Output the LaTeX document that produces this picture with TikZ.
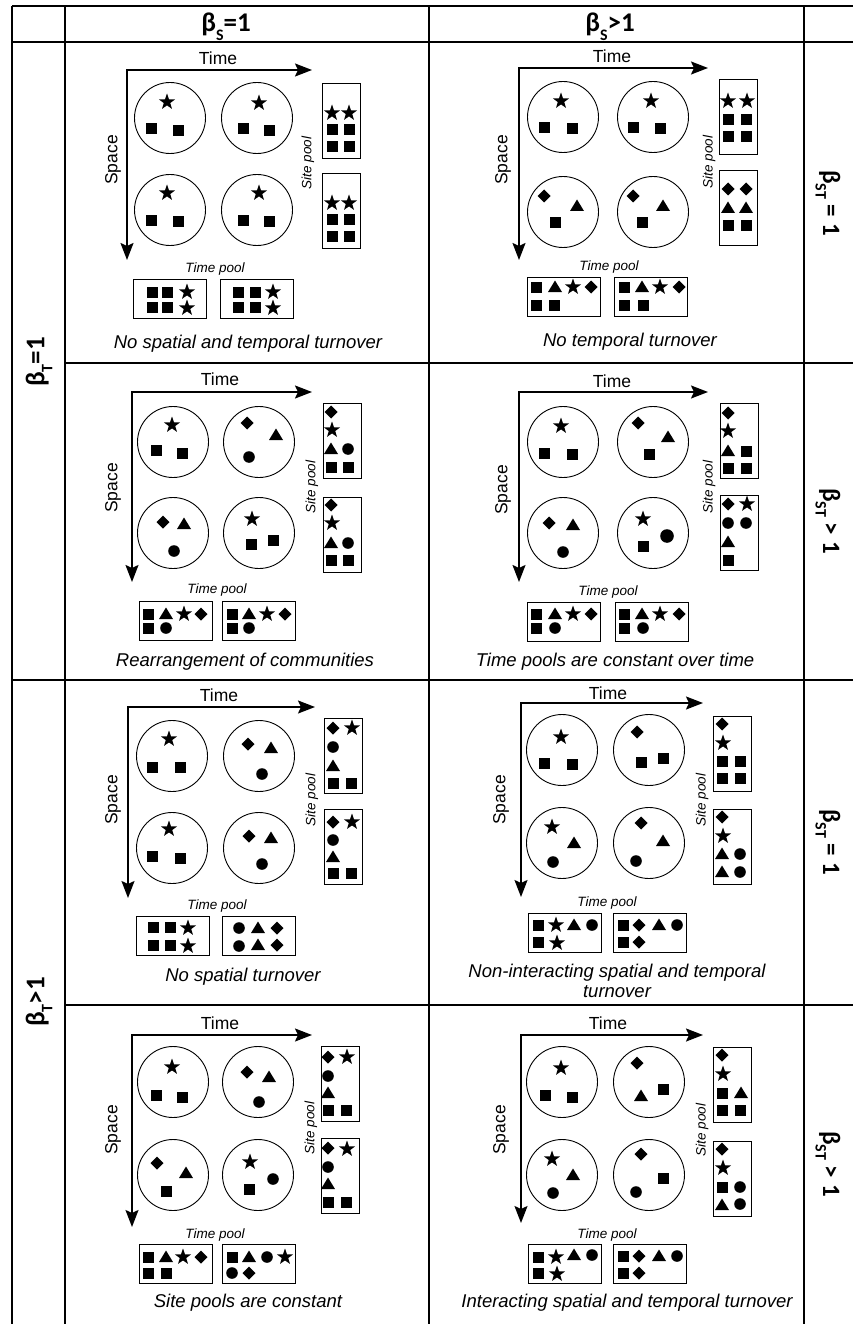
\documentclass[tikz,border=0pt]{standalone}
\usepackage{fontspec}
\usetikzlibrary{arrows.meta}
\newfontfamily\arial{Liberation Sans}
\newfontfamily\carl{Carlito}
\tikzset{
 gridline/.style={line width=1.6pt},
 axis/.style={line width=1.8pt,{Stealth[length=17pt,width=13pt,inset=3pt]}-{Stealth[length=17pt,width=13pt,inset=3pt]}},
 comm/.style={draw,circle,minimum size=71pt,inner sep=0pt,line width=0.9pt},
 sbox/.style={draw,rectangle,anchor=north west,minimum width=38pt,minimum height=75pt,inner sep=0pt,line width=1.1pt},
 tbox/.style={draw,rectangle,anchor=north west,minimum width=73pt,minimum height=39pt,inner sep=0pt,line width=1.1pt},
 axlbl/.style={font=\arial\fontsize{17.5}{19}\selectfont,inner sep=0pt},
 poollbl/.style={font=\arial\itshape\fontsize{13.5}{15}\selectfont,inner sep=0pt},
 captxt/.style={font=\arial\itshape\fontsize{18.5}{20}\selectfont,inner sep=0pt},
 beta/.style={font=\carl\bfseries\fontsize{27}{29}\selectfont,inner sep=0pt},
 betar/.style={font=\carl\bfseries\fontsize{25}{27}\selectfont,inner sep=0pt},
}
\newcommand\bsub[1]{\raisebox{-0.3em}{\fontsize{16}{16}\selectfont #1}}
% species symbols
\newcommand\Sq[1]{\fill[shift={(#1)}] (-5.5,-5.5) rectangle (5.5,5.5);}
\newcommand\St[1]{\fill[shift={(#1)}] (-90:8.5) -- (-54:3.4) -- (-18:8.5) -- (18:3.4) -- (54:8.5) -- (90:3.4) -- (126:8.5) -- (162:3.4) -- (198:8.5) -- (234:3.4) -- cycle;}
\newcommand\Tr[1]{\fill[shift={(#1)}] (0,-6.5) -- (7,5) -- (-7,5) -- cycle;}
\newcommand\Di[1]{\fill[shift={(#1)}] (0,-6.5) -- (6.5,0) -- (0,6.5) -- (-6.5,0) -- cycle;}
\newcommand\Ci[1]{\fill (#1) circle (5.8);}
% panel parts
\newcommand\Axes[3]{\coordinate (#1o) at (0,0); \coordinate (#1te) at (#2,0); \coordinate (#1se) at (0,#3);
 \draw[axis] (#1te) -- (#1o) -- (#1se);}
\newcommand\Circles[5]{\node[comm] (#1c1) at (#2,#4) {}; \node[comm] (#1c2) at (#3,#4) {};
 \node[comm] (#1c3) at (#2,#5) {}; \node[comm] (#1c4) at (#3,#5) {};}
\newcommand\SitePools[4]{\node[sbox] (#1s1) at (#2,#3) {}; \node[sbox] (#1s2) at (#2,#4) {};}
\newcommand\TimePools[4]{\node[tbox] (#1p1) at (#2,#4) {}; \node[tbox] (#1p2) at (#3,#4) {};}
\newcommand\Labels[5]{\node[axlbl] (#1tl) at (#2) {Time};
 \node[axlbl,rotate=90] (#1sl) at (#3) {Space};
 \node[poollbl,rotate=90] (#1spl) at (#4) {Site pool};
 \node[poollbl] (#1tpl) at (#5) {Time pool};}
\begin{document}
\begin{tikzpicture}[x=1pt,y=-1pt]
\fill[white] (0,0) rectangle (853,1324);
\useasboundingbox (0,0) rectangle (853,1324);
% table
\draw[gridline] (12,6) -- (853,6);
\draw[gridline] (12,42) -- (853,42);
\draw[gridline] (65,363) -- (853,363);
\draw[gridline,line width=2.4pt] (12,680) -- (853,680);
\draw[gridline] (65,1005) -- (853,1005);
\draw[gridline] (12,6) -- (12,1324);
\draw[gridline] (65,6) -- (65,1324);
\draw[gridline] (429,6) -- (429,1324);
\draw[gridline,line width=2.4pt] (804,6) -- (804,1324);
% headers
\node[beta,anchor=base] (hS1) at (226,32) {β\bsub{S}=1};
\node[beta,anchor=base] (hS2) at (610,32) {β\bsub{S}>1};
\node[beta,rotate=90] (hT1) at (39,362) {β\bsub{T}=1};
\node[beta,rotate=90] (hT2) at (39,1002) {β\bsub{T}>1};
\node[betar,rotate=-90] (hST1) at (828,203) {β\bsub{ST} = 1};
\node[betar,rotate=-90] (hST2) at (828,521) {β\bsub{ST} > 1};
\node[betar,rotate=-90] (hST3) at (828,842) {β\bsub{ST} = 1};
\node[betar,rotate=-90] (hST4) at (828,1164) {β\bsub{ST} > 1};
% ---------- Panel A ----------
\begin{scope}[shift={(127,70)}]
\Axes{A}{185}{190}
\Labels{A}{91,-12}{-14,90}{181,93}{88,199}
\Circles{A}{43}{130}{48}{140}
\SitePools{A}{195}{13}{103}
\TimePools{A}{6}{93}{209}
\St{40,32} \Sq{24,59} \Sq{51,61}
\St{132,33} \Sq{116,59} \Sq{142,61}
\St{40,123} \Sq{24,151} \Sq{51,152}
\St{132,123} \Sq{116,151} \Sq{142,152}
\St{205,43} \St{222,43} \Sq{205,60} \Sq{222,60} \Sq{205,77} \Sq{222,77}
\St{205,133} \St{222,133} \Sq{205,150} \Sq{222,150} \Sq{205,167} \Sq{222,167}
\Sq{25,222} \Sq{40,222} \St{60,222} \Sq{25,237} \Sq{40,237} \St{60,238}
\Sq{111,222} \Sq{128,222} \St{146,222} \Sq{111,237} \Sq{128,237} \St{146,238}
\end{scope}
\node[captxt] (capA) at (248,344) {No spatial and temporal turnover};
% ---------- Panel B ----------
\begin{scope}[shift={(519,68)}]
\Axes{B}{189}{192}
\Labels{B}{93,-12}{-16,92}{190,94}{90,199}
\Circles{B}{44}{134}{49}{144}
\SitePools{B}{200}{11}{102}
\TimePools{B}{8}{95}{209}
\St{42,33} \Sq{25,60} \Sq{53,61}
\St{132,33} \Sq{114,60} \Sq{141,61}
\Di{25,128} \Tr{58,138} \Sq{36,155}
\Di{114,128} \Tr{144,138} \Sq{123,155}
\St{209,33} \St{228,33} \Sq{209,52} \Sq{227,52} \Sq{209,69} \Sq{227,69}
\Di{209,121} \Di{227,121} \Tr{209,140} \Tr{227,140} \Sq{209,158} \Sq{227,158}
\Sq{17,219} \Tr{36,219} \St{54,219} \Di{72,219} \Sq{17,237} \Sq{35,237}
\Sq{105,219} \Tr{123,219} \St{141,219} \Di{160,219} \Sq{105,237} \Sq{124,237}
\end{scope}
\node[captxt] (capB) at (630,342) {No temporal turnover};
% ---------- Panel C ----------
\begin{scope}[shift={(132,392)}]
\Axes{C}{180}{190}
\Labels{C}{88,-13}{-19,96}{180,95}{85,198}
\Circles{C}{41}{127}{50}{141}
\SitePools{C}{191}{11}{105}
\TimePools{C}{7}{90}{209}
\St{40,33} \Sq{24,58} \Sq{50,61}
\Di{115,31} \Tr{144,43} \Ci{117,65}
\Di{31,130} \Tr{52,132} \Ci{42,159}
\St{120,127} \Sq{119,152} \Sq{141,148}
\Di{199,20} \St{200,38} \Tr{199,57} \Ci{216,57} \Sq{199,75} \Sq{216,75}
\Di{199,113} \St{200,131} \Tr{199,151} \Ci{216,151} \Sq{199,168} \Sq{216,168}
\Sq{16,222} \Tr{34,222} \St{52,222} \Di{69,222} \Sq{16,236} \Ci{34,236}
\Sq{100,222} \Tr{117,222} \St{135,222} \Di{153,222} \Sq{100,236} \Ci{117,236}
\end{scope}
\node[captxt] (capC) at (245,662) {Rearrangement of communities};
% ---------- Panel D ----------
\begin{scope}[shift={(519,392)}]
\Axes{D}{189}{190}
\Labels{D}{93,-11}{-16,98}{190,95}{89,200}
\Circles{D}{44}{134}{50}{141}
\SitePools{D}{201}{11}{103}
\TimePools{D}{8}{96}{210}
\St{42,34} \Sq{25,61} \Sq{53,62}
\Di{119,31} \Tr{149,45} \Sq{130,62}
\Di{30,131} \Tr{54,133} \Ci{44,160}
\St{124,127} \fill (148,144) circle (6.8); \Sq{124,154}
\Di{209,21} \St{209,39} \Tr{209,59} \Sq{227,59} \Sq{209,76} \Sq{227,76}
\Di{209,112} \St{228,112} \Ci{209,131} \Ci{227,131} \Tr{209,150} \Sq{209,168}
\Sq{17,222} \Tr{36,222} \St{54,222} \Di{72,222} \Sq{17,236} \Ci{36,236}
\Sq{105,222} \Tr{123,222} \St{141,222} \Di{160,222} \Sq{105,236} \Ci{124,236}
\end{scope}
\node[captxt] (capD) at (615,662) {Time pools are constant over time};
% ---------- Panel E ----------
\begin{scope}[shift={(128,707)}]
\Axes{E}{187}{191}
\Labels{E}{91,-12}{-15,93}{184,93}{89,199}
\Circles{E}{44}{131}{49}{141}
\SitePools{E}{196}{11}{102}
\TimePools{E}{8}{94}{209}
\St{41,32} \Sq{24,60} \Sq{52,60}
\Di{120,37} \Tr{143,41} \Ci{134,67}
\St{41,122} \Sq{24,149} \Sq{52,151}
\Di{121,129} \Tr{143,131} \Ci{134,157}
\Di{205,21} \St{224,21} \Ci{205,40} \Tr{205,59} \Sq{205,76} \Sq{223,76}
\Di{205,115} \St{224,115} \Ci{205,133} \Tr{205,150} \Sq{205,166} \Sq{223,166}
\Sq{25,220} \Sq{42,220} \St{60,221} \Sq{25,238} \Sq{42,238} \St{60,239}
\Ci{111,221} \Tr{130,221} \Di{149,221} \Ci{111,239} \Tr{130,238} \Di{149,238}
\end{scope}
\node[captxt] (capE) at (243,977) {No spatial turnover};
% ---------- Panel F ----------
\begin{scope}[shift={(521,703)}]
\Axes{F}{182}{194}
\Labels{F}{87,-10}{-20,97}{181,97}{86,200}
\Circles{F}{41}{128}{47}{140}
\SitePools{F}{192}{13}{106}
\TimePools{F}{7}{92}{210}
\St{40,34} \Sq{23,60} \Sq{51,61}
\Di{116,29} \Sq{120,59} \Sq{142,55}
\St{31,124} \Tr{53,140} \Ci{32,159}
\Di{120,120} \Tr{142,138} \Ci{115,158}
\Di{201,21} \St{202,40} \Sq{201,58} \Sq{219,58} \Sq{201,75} \Sq{219,75}
\Di{201,114} \St{202,133} \Tr{201,151} \Ci{219,151} \Tr{201,169} \Ci{219,169}
\Sq{17,222} \St{35,222} \Tr{53,222} \Ci{71,222} \Sq{17,239} \St{36,240}
\Sq{102,222} \Di{118,222} \Tr{138,222} \Ci{156,222} \Sq{102,239} \Di{118,239}
\end{scope}
\node[captxt] (capF1) at (617,973) {Non-interacting spatial and temporal};
\node[captxt] (capF2) at (617,992) {turnover};
% ---------- Panel G ----------
\begin{scope}[shift={(132,1035)}]
\Axes{G}{180}{192}
\Labels{G}{88,-12}{-19,95}{179,93}{83,200}
\Circles{G}{41}{126}{47}{140}
\SitePools{G}{189}{11}{103}
\TimePools{G}{7}{90}{209}
\St{40,32} \Sq{24,60} \Sq{50,62}
\Di{115,37} \Tr{137,42} \Ci{127,67}
\Di{25,128} \Tr{54,138} \Sq{34,156}
\St{118,127} \Ci{141,144} \Sq{117,154}
\Di{196,22} \St{215,22} \Ci{196,41} \Tr{196,58} \Sq{196,75} \Sq{214,75}
\Di{196,113} \St{215,114} \Ci{196,132} \Tr{196,149} \Sq{196,167} \Sq{214,167}
\Sq{16,222} \Tr{34,222} \St{51,222} \Di{69,222} \Sq{16,238} \Sq{34,238}
\Sq{100,222} \Tr{117,222} \Ci{135,222} \St{153,222} \Ci{100,238} \Di{117,238}
\end{scope}
\node[captxt] (capG) at (248,1303) {Site pools are constant};
% ---------- Panel H ----------
\begin{scope}[shift={(521,1035)}]
\Axes{H}{182}{188}
\Labels{H}{87,-12}{-20,95}{181,95}{86,200}
\Circles{H}{41}{128}{47}{140}
\SitePools{H}{192}{12}{106}
\TimePools{H}{7}{92}{209}
\St{40,33} \Sq{24,60} \Sq{51,62}
\Di{116,28} \Tr{120,61} \Sq{142,54}
\St{31,124} \Tr{52,140} \Ci{32,158}
\Di{120,119} \Sq{142,143} \Ci{115,157}
\Di{201,20} \St{202,39} \Sq{201,58} \Tr{220,58} \Sq{201,75} \Sq{219,75}
\Di{201,114} \St{202,133} \Sq{201,152} \Ci{219,152} \Tr{201,170} \Ci{219,169}
\Sq{17,222} \St{35,222} \Tr{53,220} \Ci{71,220} \Sq{17,238} \St{36,239}
\Sq{102,221} \Di{118,221} \Tr{138,221} \Ci{156,221} \Sq{102,238} \Di{118,238}
\end{scope}
\node[captxt] (capH) at (627,1303) {Interacting spatial and temporal turnover};
\end{tikzpicture}
\end{document}
